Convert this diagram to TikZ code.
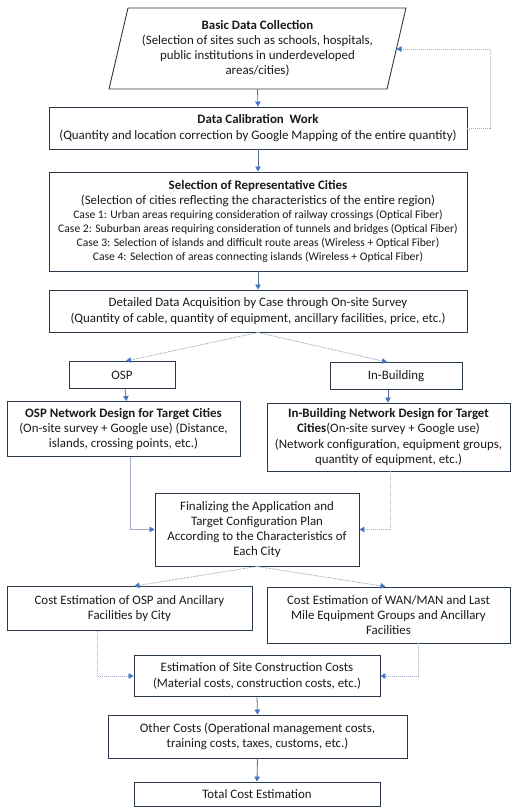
\documentclass[tikz,border=0pt]{standalone}
\usepackage{fontspec}
\setmainfont{Carlito}
\usetikzlibrary{arrows.meta}
\definecolor{bord}{HTML}{2B3A4A}
\definecolor{arr}{HTML}{4472C4}
\definecolor{conn}{HTML}{5B6F8C}
\definecolor{lite}{HTML}{9FAEC2}
\definecolor{txt}{HTML}{1A1A1A}
\begin{document}
\begin{tikzpicture}[x=1pt,y=-1pt,
  box/.style={draw=bord,line width=0.9pt,fill=white,align=center,inner sep=0pt,text=txt,font=\fontsize{12.9}{15.2}\selectfont},
  tipb/.style={-{Triangle[length=5pt,width=5.5pt,color=arr]}},
  main/.style={tipb,draw=conn,line width=0.8pt},
  dsh/.style={tipb,draw=lite,line width=0.7pt,dash pattern=on 2pt off 1pt},
  dot/.style={tipb,draw=lite,line width=0.8pt,dash pattern=on 1pt off 1pt},
  sol/.style={tipb,draw=lite,line width=0.7pt}]
\useasboundingbox (0,0) rectangle (519,812);
\fill[white] (0,0) rectangle (519,812);

% parallelogram
\draw[bord,line width=0.9pt] (128,8) -- (406,8) -- (387,89) -- (109,89) -- cycle;
\node[box,draw=none,fill=none,minimum width=278pt,minimum height=81pt] (basic) at (257.5,48.5)
  {\textbf{Basic Data Collection}\\(Selection of sites such as schools, hospitals,\\public institutions in underdeveloped\\areas/cities)};
\coordinate (fbend) at (396.5,49);

\node[box,minimum width=418pt,minimum height=42pt] (calib) at (258,128)
  {\textbf{Data Calibration\ \ Work}\\(Quantity and location correction by Google Mapping of the entire quantity)};

\node[box,minimum width=418pt,minimum height=99pt] (sel) at (258,221.5)
  {\textbf{Selection of Representative Cities}\\(Selection of cities reflecting the characteristics of the entire region)\\[-1.2pt]
  {\fontsize{11.6}{14}\selectfont Case 1: Urban areas requiring consideration of railway crossings (Optical Fiber)}\\[-1.2pt]
  {\fontsize{11.6}{14}\selectfont Case 2: Suburban areas requiring consideration of tunnels and bridges (Optical Fiber)}\\[-1.2pt]
  {\fontsize{11.6}{14}\selectfont Case 3: Selection of islands and difficult route areas (Wireless + Optical Fiber)}\\[-1.2pt]
  {\fontsize{11.6}{14}\selectfont Case 4: Selection of areas connecting islands (Wireless + Optical Fiber)}};

\node[box,minimum width=418pt,minimum height=42pt] (det) at (258,311)
  {Detailed Data Acquisition by Case through On-site Survey\\(Quantity of cable, quantity of equipment, ancillary facilities, price, etc.)};

\node[box,minimum width=106pt,minimum height=27pt] (osp) at (122,375) {OSP};
\node[box,minimum width=132pt,minimum height=27pt] (inb) at (396,376) {In-Building};

\node[box,minimum width=233pt,minimum height=55pt] (ospd) at (123.5,429)
  {\textbf{OSP Network Design for Target Cities}\\(On-site survey + Google use) (Distance,\\islands, crossing points, etc.)};
\node[box,minimum width=243pt,minimum height=68pt] (inbd) at (388.5,437)
  {\textbf{In-Building Network Design for Target}\\\textbf{Cities}(On-site survey + Google use)\\(Network configuration, equipment groups,\\quantity of equipment, etc.)};

\node[box,minimum width=204pt,minimum height=73pt] (fin) at (257,529.5)
  {Finalizing the Application and\\Target Configuration Plan\\According to the Characteristics of\\Each City};

\node[box,minimum width=245pt,minimum height=44pt] (costo) at (129.5,608.5)
  {Cost Estimation of OSP and Ancillary\\Facilities by City};
\node[box,minimum width=243pt,minimum height=56pt] (costw) at (388.5,615)
  {Cost Estimation of WAN/MAN and Last\\Mile Equipment Groups and Ancillary\\Facilities};

\node[box,minimum width=246pt,minimum height=41pt] (est) at (257,676)
  {Estimation of Site Construction Costs\\(Material costs, construction costs, etc.)};
\node[box,minimum width=299pt,minimum height=43pt] (other) at (257.5,736.5)
  {Other Costs (Operational management costs,\\training costs, taxes, customs, etc.)};
\node[box,minimum width=246pt,minimum height=24pt] (total) at (257,794)
  {Total Cost Estimation};

% connectors
\draw[main] (basic.south) -- (calib.north);
\draw[dot] (calib.east) -- ++(23,0) |- (fbend);
\draw[main] (calib.south) -- (sel.north);
\draw[main] (sel.south) -- (det.north);
\draw[dsh] (det.south) -- ([xshift=4pt]osp.north);
\draw[dsh] (det.south) -- ([xshift=-9pt]inb.north);
\draw[main] ([xshift=3pt]osp.south) -- ([xshift=4.5pt]ospd.north -| osp.south);
\draw[main] ([xshift=-8pt]inb.south) -- ([xshift=-8pt]inbd.north -| inb.south);
\draw[sol] ([xshift=6.5pt]ospd.south) |- (fin.west);
\draw[dot] ([xshift=1.5pt]inbd.south) |- (fin.east);
\draw[dsh] (fin.south) -- ([xshift=5pt]costo.north);
\draw[dsh] (fin.south) -- ([xshift=-3pt]costw.north);
\draw[dot] ([xshift=-32pt]costo.south) |- (est.west);
\draw[dot] ([xshift=30pt]costw.south) |- (est.east);
\draw[main] (est.south) -- (other.north);
\draw[main] (other.south) -- (total.north);
\end{tikzpicture}
\end{document}
